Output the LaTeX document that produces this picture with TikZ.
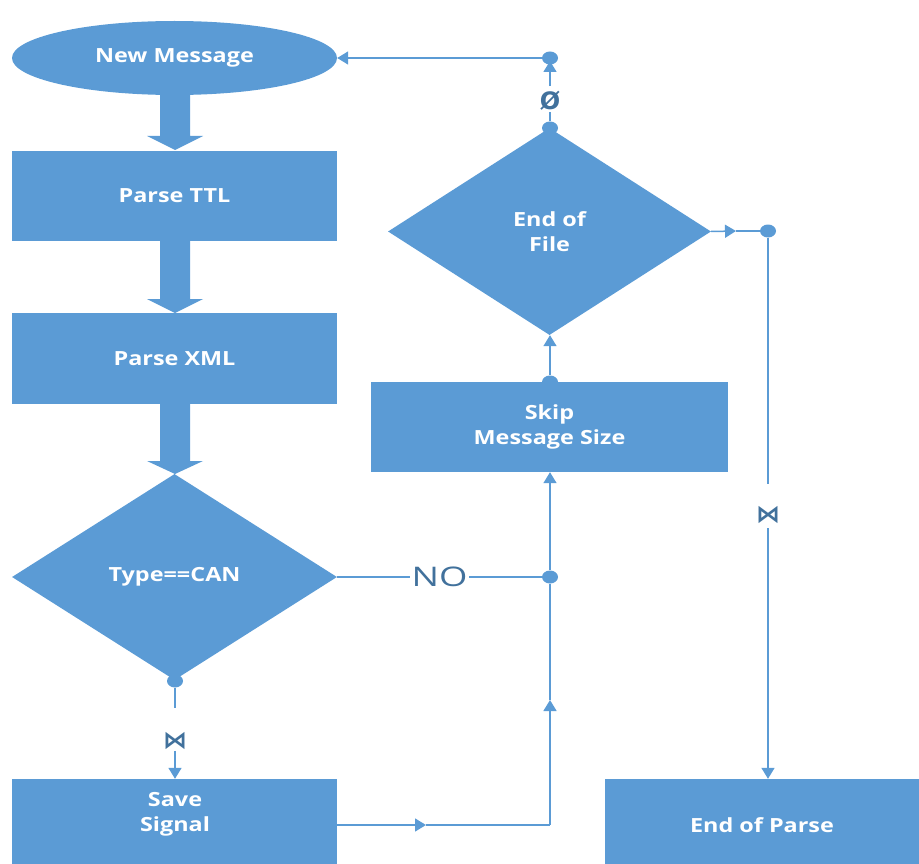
\documentclass[tikz,border=0pt]{standalone}
\usepackage{fontspec}
\setmainfont{Open Sans}
\newfontfamily\boxfont[FakeStretch=1.2]{Open Sans}
\newfontfamily\nofont[FakeStretch=1.35]{Open Sans}
\newfontfamily\djv{DejaVu Sans}
\usetikzlibrary{shapes.geometric,arrows.meta}
\definecolor{bfill}{HTML}{5B9BD5}
\definecolor{bline}{HTML}{5B9BD5}
\definecolor{bdark}{HTML}{41719C}
\begin{document}
\begin{tikzpicture}[x=1pt,y=-1pt,
  shapetext/.style={text=white, font=\boxfont\bfseries\fontsize{19.5}{25}\selectfont, align=center},
  box/.style={fill=bfill, draw=none, inner sep=0pt, shapetext},
  dia/.style={diamond, fill=bfill, draw=none, inner sep=0pt, shapetext},
  dot/.style={ellipse, fill=bline, draw=none, inner sep=0pt, minimum width=16pt, minimum height=13pt},
  conn/.style={draw=bline, line width=1.5pt},
  arr/.style={conn, -{Triangle[width=13pt,length=11pt]}},
  glyph/.style={text=bdark, font=\djv\bfseries\fontsize{24}{24}\selectfont, inner sep=1pt},
  blockarrow/.style={fill=bfill, draw=none}
]
\useasboundingbox (0,0) rectangle (919,864);

% main shapes
\node[ellipse, box, minimum width=325pt, minimum height=74pt] (newmsg) at (174.5,58) {New Message};
\node[box, minimum width=325pt, minimum height=90pt] (ttl) at (174.5,196) {Parse TTL};
\node[box, minimum width=325pt, minimum height=91pt] (xml) at (174.5,358.5) {Parse XML};
\node[dia, minimum width=325pt, minimum height=206pt] (can) at (174.5,577) {Type==CAN};
\node[box, minimum width=325pt, minimum height=92pt] (save) at (174.5,825) {};
\node[shapetext] (savet) at (175,814) {Save\\Signal};
\node[box, minimum width=357pt, minimum height=90pt] (skip) at (549.5,427) {Skip\\Message Size};
\node[dia, minimum width=323pt, minimum height=207pt] (eof) at (549.5,231.5) {End of\\File};
\node[box, minimum width=314pt, minimum height=92pt] (eop) at (762,825) {End of Parse};

% block arrows
\fill[blockarrow] (160,90) -- (190,90) -- (190,136) -- (203,136) -- (175,150) -- (147,136) -- (160,136) -- cycle;
\fill[blockarrow] (160,240) -- (190,240) -- (190,299) -- (203,299) -- (175,313) -- (147,299) -- (160,299) -- cycle;
\fill[blockarrow] (160,403) -- (190,403) -- (190,461) -- (203,461) -- (175,474) -- (147,461) -- (160,461) -- cycle;

% dots
\node[dot] (dcan) at (175,681) {};
\node[dot] (dno) at (550,577) {};
\node[dot] (dskip) at (550,382) {};
\node[dot] (deoft) at (550,128) {};
\node[dot] (dtop) at (550,58) {};
\node[dot] (deofr) at (768,231) {};

% glyphs
\node[glyph] (g1) at (175,741) {⋈};
\node[glyph] (g2) at (550,101) {Ø};
\node[glyph] (g3) at (768,515) {⋈};

% helper coordinates
\coordinate (c1) at (175,708);
\coordinate (s0) at (307,825);
\coordinate (s1) at (426,825);
\coordinate (s2) at (550,825);
\coordinate (s3) at (550,700);
\coordinate (e1) at (736,231);
\coordinate (e2) at (768,484);
\coordinate (e3) at (768,528);

% connectors
\draw[conn] (dcan) -- (c1);
\draw[arr] (g1.south) -- (save.north -| g1);
\draw[conn] (can.east) -- node[fill=white, text=bdark, font=\nofont\fontsize{27}{27}\selectfont, inner sep=2pt] (no) {NO} (dno);
\draw[arr] (s0) -- (s1);
\draw[conn] (s1) -- (s2);
\draw[arr] (s2) -- (s3);
\draw[conn] (s3) -- (dno);
\draw[arr] (dno) -- (skip.south -| dno);
\draw[arr] (dskip) -- (eof.south -| dskip);
\draw[conn] (deoft) -- (g2.south);
\draw[arr, shorten >=3pt] (g2.north) ++(0,-4) -- (dtop.center);
\draw[arr] (dtop) -- (newmsg.east);
\draw[arr] (eof.east) -- (e1);
\draw[conn] (e1) -- (deofr);
\draw[conn] (deofr) -- (e2);
\draw[arr] (e3) -- (eop.north -| e3);
\end{tikzpicture}
\end{document}
